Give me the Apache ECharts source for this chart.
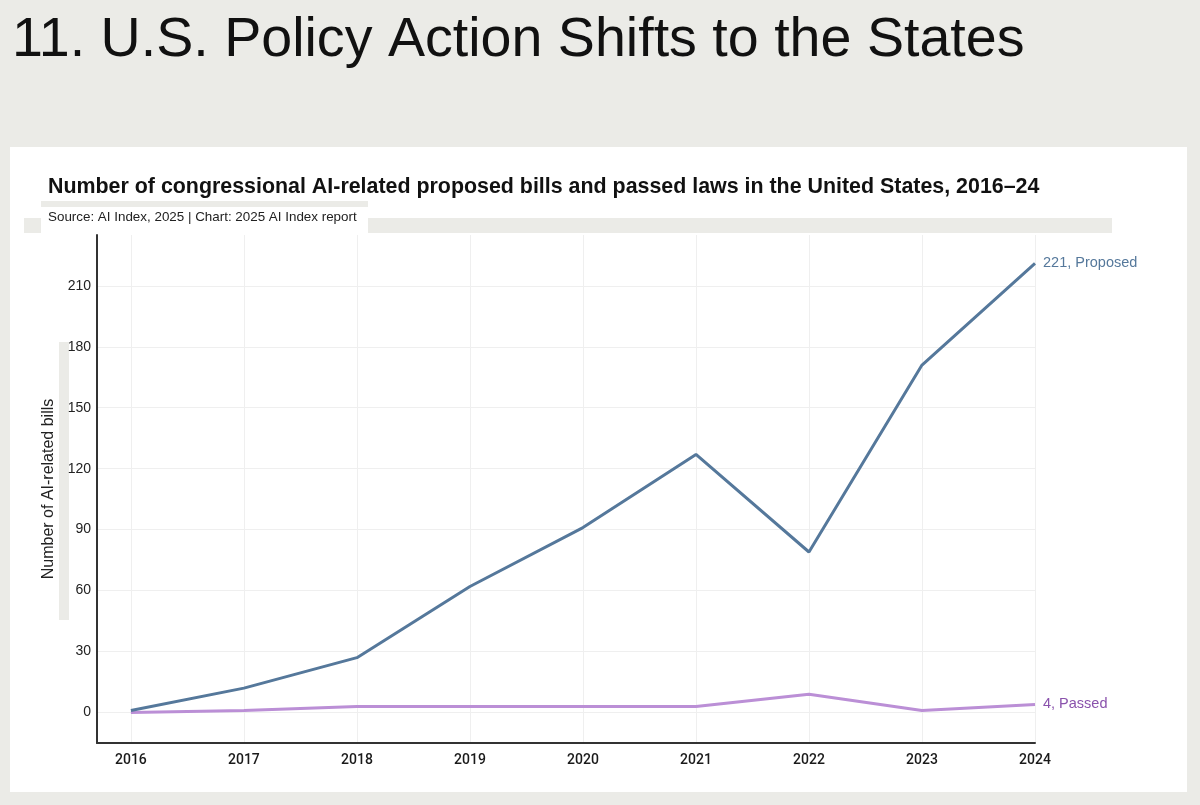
<!DOCTYPE html>
<html>
<head>
<meta charset="utf-8">
<script src="https://cdn.jsdelivr.net/npm/echarts@6.0.0/dist/echarts.min.js"></script>
<style>
html,body{margin:0;padding:0;background:#ebebe7;}
#c{width:1200px;height:805px;}
</style>
</head>
<body>
<div id="c"></div>
<script>
const years = [2016, 2017, 2018, 2019, 2020, 2021, 2022, 2023, 2024];
const proposed = [1, 12, 27, 62, 91, 127, 79, 171, 221];
const passed = [0, 1, 3, 3, 3, 3, 9, 1, 4];
const yTicks = [0, 30, 60, 90, 120, 150, 180, 210];

const chart = echarts.init(document.getElementById('c'));
const pair = (arr) => years.map((y, i) => [y, arr[i]]);

chart.setOption({
  backgroundColor: '#ebebe7',
  animation: false,
  graphic: [
    { type: 'rect', shape: { x: 10, y: 147, width: 1177, height: 645 }, style: { fill: '#ffffff' }, z: -10 },
    { type: 'rect', shape: { x: 24, y: 218, width: 1088, height: 15 }, style: { fill: '#ebebe7' }, z: -9 },
    { type: 'rect', shape: { x: 41, y: 201, width: 327, height: 6 }, style: { fill: '#ebebe7' }, z: -9 },
    { type: 'rect', shape: { x: 41, y: 207, width: 327, height: 26 }, style: { fill: '#ffffff' }, z: -8 },
    { type: 'rect', shape: { x: 59, y: 342, width: 10, height: 278 }, style: { fill: '#ebebe7' }, z: -8 }
  ],
  title: [
    {
      text: '11. U.S. Policy Action Shifts to the States',
      left: 12, top: 13, padding: 0,
      textStyle: { fontFamily: 'Liberation Sans', fontSize: 55.6, fontWeight: 'normal', color: '#111' }
    },
    {
      text: 'Number of congressional AI-related proposed bills and passed laws in the United States, 2016–24',
      left: 48, top: 177, padding: 0,
      textStyle: { fontFamily: 'Liberation Sans', fontSize: 21.4, fontWeight: 'bold', color: '#111' }
    },
    {
      text: 'Source: AI Index, 2025 | Chart: 2025 AI Index report',
      left: 48, top: 211, padding: 0,
      textStyle: { fontFamily: 'Liberation Sans', fontSize: 13.4, fontWeight: 'normal', color: '#222' }
    }
  ],
  grid: { left: 97, right: 165, top: 235, bottom: 62 },
  xAxis: {
    type: 'value',
    min: 2015.7,
    max: 2024,
    axisLine: { show: true, onZero: false, lineStyle: { color: '#333', width: 2 } },
    axisTick: { show: false, customValues: years },
    axisLabel: {
      customValues: years,
      color: '#1a1a1a', fontSize: 14, fontWeight: 500, fontFamily: 'Roboto',
      margin: 10,
      formatter: (v) => String(v)
    },
    splitLine: { show: true, lineStyle: { color: '#efefef', width: 1 } }
  },
  yAxis: {
    type: 'value',
    min: -15,
    max: 235,
    name: 'Number of AI-related bills',
    nameLocation: 'middle',
    nameRotate: 90,
    nameGap: 39,
    nameTextStyle: { fontFamily: 'Liberation Sans', fontSize: 16, color: '#222' },
    axisLine: { show: true, lineStyle: { color: '#333', width: 2 } },
    axisTick: { show: false, customValues: yTicks },
    axisLabel: { customValues: yTicks, color: '#222', fontSize: 14, fontFamily: 'Liberation Sans', margin: 6 },
    splitLine: { show: true, lineStyle: { color: '#efefef', width: 1 } }
  },
  series: [
    {
      name: 'Passed',
      type: 'line',
      data: pair(passed),
      showSymbol: false,
      lineStyle: { color: '#bb8fd6', width: 3 },
      itemStyle: { color: '#bb8fd6' },
      endLabel: {
        show: true,
        formatter: (p) => p.value[1] + ', Passed',
        color: '#8a52ac', fontSize: 14.5, fontFamily: 'Liberation Sans', distance: 8
      }
    },
    {
      name: 'Proposed',
      type: 'line',
      data: pair(proposed),
      showSymbol: false,
      lineStyle: { color: '#55789b', width: 3 },
      itemStyle: { color: '#55789b' },
      endLabel: {
        show: true,
        formatter: (p) => p.value[1] + ', Proposed',
        color: '#55789b', fontSize: 14.5, fontFamily: 'Liberation Sans', distance: 8
      }
    }
  ]
});
</script>
</body>
</html>
